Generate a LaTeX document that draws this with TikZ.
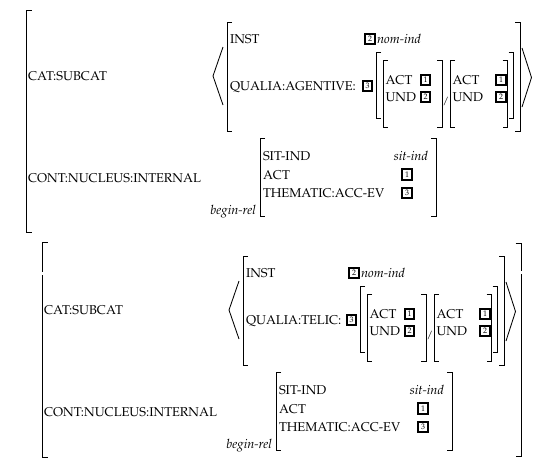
\documentclass[tikz,border=0pt]{standalone}
\usepackage[T1]{fontenc}
\usepackage{mathpazo}
\newcommand\avmfont{\fontsize{12.8}{15}\selectfont}
\newcommand\avmtagfont{\fontsize{8}{9}\selectfont}
\tikzset{
  brk/.style={line width=0.85pt, line join=miter},
  lbl/.style={inner sep=0pt, outer sep=0pt, font=\avmfont},
  itl/.style={inner sep=0pt, outer sep=0pt, font=\avmfont\itshape},
  tagbox/.style={draw, line width=1.9pt, inner sep=0pt, minimum width=9.5pt, minimum height=10.5pt, font=\avmtagfont},
}
\newcommand\avmLB[4]{\draw[brk] ({#1+#4},#2) -- (#1,#2) -- (#1,#3) -- ({#1+#4},#3);}
\newcommand\avmRB[4]{\draw[brk] ({#1-#4},#2) -- (#1,#2) -- (#1,#3) -- ({#1-#4},#3);}
% #1 prefix, #2 qualia label, #3 dx, #4 dy, #5 extra shift of the right part
\newcommand\avmblock[5]{%
\begin{scope}[shift={(#3,#4)}]
  \node[lbl, anchor=base west] (#1cat) at (28,80.5) {CAT:SUBCAT};
  \node[lbl, anchor=base west] (#1cont) at (28,182.5) {CONT:NUCLEUS:INTERNAL};
  \draw[brk] (223,47) -- (213,76) -- (223,105);
  \avmLB{227}{22}{131}{5}
  \node[lbl, anchor=base west] (#1inst) at (230,43.5) {INST};
  \node[lbl, anchor=base west] (#1qualia) at (230,90) {QUALIA:#2:};
  \begin{scope}[shift={(#5,0)}]
    \node[tagbox] (#1tinst) at (370,39) {2};
    \node[itl, anchor=base west] (#1nom) at (377,43.5) {nom-ind};
    \node[tagbox] (#1tqual) at (367.5,86) {3};
    \avmLB{376}{52}{118}{5}
    \avmLB{383}{60}{127}{5}
    \node[lbl, anchor=base west] (#1acta) at (385.5,84.5) {ACT};
    \node[tagbox] (#1tacta) at (425.5,80) {1};
    \node[lbl, anchor=base west] (#1unda) at (385.5,101.5) {UND};
    \node[tagbox] (#1tunda) at (425.5,97) {2};
    \avmRB{442}{60}{127}{5}
    \node[lbl, anchor=base, font=\fontsize{10}{12}\selectfont] (#1slash) at (446,104) {/};
    \avmLB{450}{60}{127}{5}
    \node[lbl, anchor=base west] (#1actb) at (452.5,84.5) {ACT};
    \node[tagbox] (#1tactb) at (501,80) {1};
    \node[lbl, anchor=base west] (#1undb) at (452.5,101.5) {UND};
    \node[tagbox] (#1tundb) at (501,97) {2};
    \avmRB{507.5}{60}{127}{5}
    \avmRB{513.5}{52}{118}{5}
    \avmRB{520}{22}{131}{5}
    \draw[brk] (522,48) -- (531.5,77.5) -- (522,107);
  \end{scope}
  \avmLB{260}{138}{216}{5}
  \avmRB{436}{138}{216}{5}
  \node[itl, anchor=base east] (#1begin) at (256,214.5) {begin-rel};
  \node[lbl, anchor=base west] (#1sit) at (263,160.5) {SIT-IND};
  \node[itl, anchor=base east] (#1sitv) at (428,160.5) {sit-ind};
  \node[lbl, anchor=base west] (#1actc) at (263,179) {ACT};
  \node[tagbox] (#1tactc) at (407,174.5) {1};
  \node[lbl, anchor=base west] (#1them) at (263,197.5) {THEMATIC:ACC-EV};
  \node[tagbox] (#1tthem) at (407,193) {3};
\end{scope}}
\begin{document}
\begin{tikzpicture}[x=1pt,y=-1pt]
  \fill[white] (0,0) rectangle (533,466);
  \useasboundingbox (0,0) rectangle (533,466);
  % outer bracket of the first structure
  \avmLB{26}{10}{232}{5.5}
  \avmblock{t}{AGENTIVE}{0}{0}{0}
  % outer brackets of the second structure (with the small gaps)
  \draw[brk] (47.5,242) -- (42,242) -- (42,272);
  \draw[brk] (42,275) -- (42,457) -- (47.5,457);
  \draw[brk] (515.5,243) -- (521,243) -- (521,271);
  \draw[brk] (521,274) -- (521,456) -- (515.5,456);
  \avmblock{b}{TELIC}{16}{234}{-32}
\end{tikzpicture}
\end{document}
